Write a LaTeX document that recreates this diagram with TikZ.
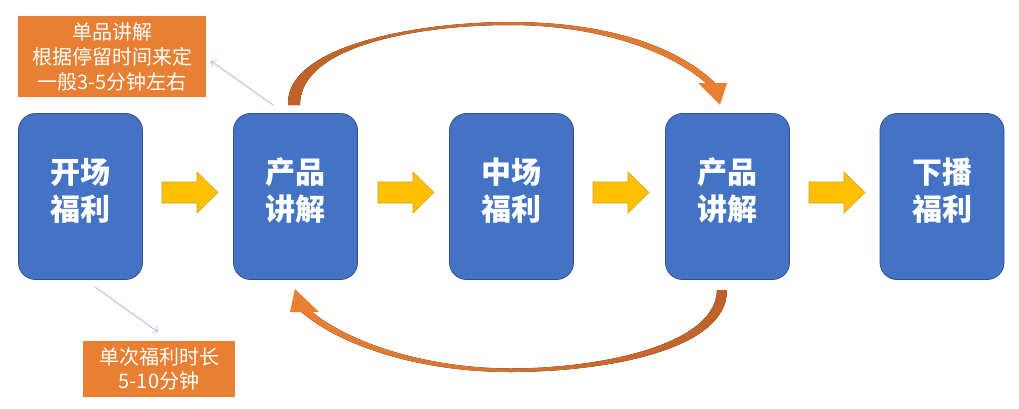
\documentclass[tikz,border=0pt]{standalone}
\usepackage{fontspec}
\newfontfamily\cjk{Noto Sans CJK SC}
\usetikzlibrary{arrows.meta}
\definecolor{boxblue}{HTML}{4472C4}
\definecolor{boxline}{HTML}{2F528F}
\definecolor{lblorange}{HTML}{E97F32}
\definecolor{darkorange}{HTML}{BF6128}
\definecolor{midorange}{HTML}{F8DCC8}
\definecolor{headorange}{HTML}{EA7F33}
\definecolor{yel}{HTML}{FFC000}
\definecolor{yelline}{HTML}{D4A017}
\definecolor{thinblue}{HTML}{8EA9DB}
\begin{document}
\begin{tikzpicture}[x=1pt,y=-1pt,
  box/.style={draw=boxline, line width=0.8pt, fill=boxblue, rounded corners=17pt,
    minimum width=124pt, minimum height=166pt, inner sep=0pt},
  boxtext/.style={text=white, align=center, yshift=6pt, inner sep=0pt,
    font=\cjk\bfseries\fontsize{30}{37}\selectfont},
  lbl/.style={fill=lblorange, text=white, align=center, inner sep=0pt},
  thinarrow/.style={draw=thinblue, line width=0.6pt, -{Straight Barb[length=4pt,width=7pt]}},
  yarrow/.pic={\draw[fill=yel, draw=yelline, line width=0.6pt]
    (0,-10.5) -- (35,-10.5) -- (35,-20.5) -- (56,0) -- (35,20.5) -- (35,10.5) -- (0,10.5) -- cycle;},
  headfill/.style={fill=headorange}
]
\useasboundingbox (0,0) rectangle (1019,408);

% boxes
\node[box, label={[boxtext]center:开场\\福利}] (b1) at (80.5,196.5) {};
\node[box, label={[boxtext]center:产品\\讲解}] (b2) at (295.5,196.5) {};
\node[box, label={[boxtext]center:中场\\福利}] (b3) at (511.5,196.5) {};
\node[box, label={[boxtext]center:产品\\讲解}] (b4) at (727.5,196.5) {};
\node[box, label={[boxtext]center:下播\\福利}] (b5) at (942,196.5) {};

% yellow arrows
\pic at (162,192.5) {yarrow};
\pic at (378,192.5) {yarrow};
\pic at (593,192.5) {yarrow};
\pic at (809,192.5) {yarrow};

% labels
\node[lbl, minimum width=188pt, minimum height=81pt, font=\cjk\fontsize{20}{25}\selectfont]
  (la) at (112,56.5) {单品讲解\\根据停留时间来定\\一般3-5分钟左右};
\node[lbl, minimum width=152pt, minimum height=56pt, font=\cjk\fontsize{20}{23.5}\selectfont]
  (lb) at (159,369) {单次福利时长\\5-10分钟};

% thin arrows
\coordinate (ta) at (273,105);
\coordinate (tae) at (211,61);
\draw[thinarrow] (ta) -- (tae);
\coordinate (tb) at (95,287);
\coordinate (tbe) at (158,332);
\draw[thinarrow] (tb) -- (tbe);

% top curved arrow
\fill[left color=darkorange, middle color=midorange, right color=headorange]
  (288,105) .. controls (285,45) and (420,22) .. (510,22)
  .. controls (610,22) and (680,48) .. (716,84)
  -- (707,84) .. controls (672,52) and (600,25) .. (510,25)
  .. controls (420,25) and (300,45) .. (300,105) -- cycle;
\fill[headfill] (698,83) -- (727,83) -- (720,105) -- cycle;

% bottom curved arrow
\fill[left color=headorange, middle color=midorange, right color=darkorange]
  (727,290) .. controls (727,352) and (600,372) .. (510,372)
  .. controls (420,372) and (340,346) .. (300,311)
  -- (311,311) .. controls (345,340) and (420,368) .. (510,368.5)
  .. controls (600,368.5) and (716,345) .. (717,290) -- cycle;
\fill[headfill] (290,312) -- (319,312) -- (295,289) -- cycle;
\end{tikzpicture}
\end{document}
